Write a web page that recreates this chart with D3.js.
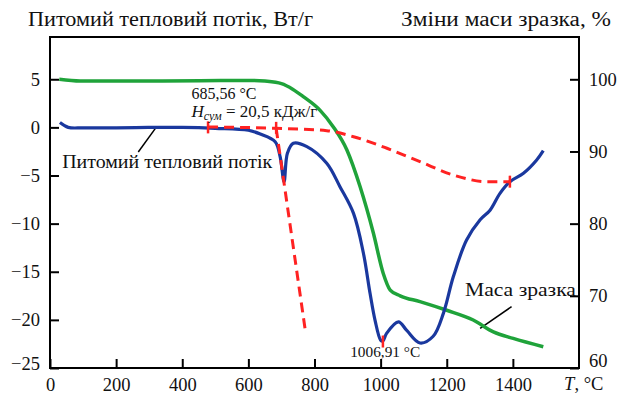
<!DOCTYPE html>
<html>
<head>
<meta charset="utf-8">
<script src="https://cdn.jsdelivr.net/npm/d3@7"></script>
<style>
  body { margin: 0; background: #fff; }
  .axis path { display: none; }
  .axis line { stroke: #000; stroke-width: 2; }
</style>
</head>
<body>
<svg id="chart" width="623" height="402"></svg>
<script>
"use strict";

var FONT = "'Liberation Serif', Tinos, 'Times New Roman', 'DejaVu Serif', serif";

// heat flow curve, W/g
var flow_t = [30, 55, 100, 200, 300, 400, 500, 600, 636, 681, 696, 708, 718, 736, 777, 837, 877, 918, 948, 968, 983, 1000, 1007, 1018, 1054, 1079, 1119, 1159, 1190, 1220, 1260, 1301, 1331, 1361, 1391, 1432, 1472, 1492];
var flow_v = [0.5, 0.0, -0.05, -0.05, 0.0, 0.0, -0.1, -0.3, -0.69, -1.49, -3.05, -5.64, -2.69, -1.65, -2.0, -3.73, -6.16, -8.93, -13.08, -17.24, -20.02, -22.1, -22.2, -21.4, -20.2, -21.1, -22.4, -21.7, -19.3, -15.5, -11.7, -9.6, -8.6, -6.85, -5.64, -4.77, -3.39, -2.42];

// sample mass, %
var mass_t = [28, 91, 303, 454, 605, 650, 700, 735, 766, 817, 857, 898, 938, 978, 1008, 1029, 1059, 1119, 1200, 1280, 1341, 1401, 1492];
var mass_v = [100, 99.76, 99.76, 99.8, 99.85, 99.75, 99.4, 98.6, 97.6, 95.7, 93.4, 90.2, 85.1, 78.7, 73.1, 70.8, 70.0, 69.2, 68.0, 66.65, 65.0, 64.1, 62.95];

// red dashed baseline and tangent
var base_t = [478, 681, 837, 918, 1019, 1119, 1220, 1321, 1391];
var base_v = [0.04, -0.09, -0.34, -0.97, -2.17, -3.56, -4.95, -5.64, -5.64];
var tangent_t = [684, 772];
var tangent_v = [-0.09, -21.05];

// red markers
var marker_t = [478, 684, 1391, 1006.91];
var marker_v = [0.0, -0.05, -5.64, -22.25];

var x_ticks = [0, 200, 400, 600, 800, 1000, 1200, 1400];
var left_ticks = [5, 0, -5, -10, -15, -20, -25];
var right_ticks = [60, 70, 80, 90, 100];

function _make_line(X, Y, ts, vs, curve) {
  const pts = ts.map(function (t, i) { return [t, vs[i]]; });
  return d3.line()
    .x(function (d) { return X(d[0]); })
    .y(function (d) { return Y(d[1]); })
    .curve(curve)(pts);
}

function _label(sel, x, y, size, txt, len) {
  const t = sel.append('text')
    .attr('x', x).attr('y', y)
    .attr('font-family', FONT)
    .attr('font-size', size)
    .attr('fill', '#111')
    .text(txt);
  if (len) {
    t.attr('textLength', len).attr('lengthAdjust', 'spacingAndGlyphs');
  }
  return t;
}

function _draw_plot(svg) {
  var margin = { top: 37, right: 44, bottom: 34, left: 50 };
  var width = 623 - margin.left - margin.right;
  var height = 402 - margin.top - margin.bottom;

  var plot = svg.append('g')
    .attr('transform', 'translate(' + margin.left + ',' + margin.top + ')');

  var xscale = d3.scaleLinear().domain([0, 1600]).range([0, width]);
  var yleft = d3.scaleLinear().domain([-25, 9.39]).range([height, 0]);
  var yright = d3.scaleLinear().domain([60, 105.86]).range([height, 0]);

  plot.append('g')
    .attr('class', 'axis x')
    .attr('transform', 'translate(0,' + height + ')')
    .call(d3.axisBottom(xscale).tickValues(x_ticks).tickFormat(d3.format('d'))
      .tickSize(-9).tickSizeOuter(0).tickPadding(10));
  plot.append('g')
    .attr('class', 'axis y')
    .call(d3.axisLeft(yleft).tickValues(left_ticks).tickSize(-9).tickSizeOuter(0).tickPadding(10));
  plot.append('g')
    .attr('class', 'axis y2')
    .attr('transform', 'translate(' + width + ',0)')
    .call(d3.axisRight(yright).tickValues(right_ticks).tickSize(-9).tickSizeOuter(0).tickPadding(10));

  svg.selectAll('.axis')
    .attr('font-family', FONT)
    .attr('font-size', 18.5)
    .selectAll('text').attr('fill', '#111');
  // bottom labels of the two side axes sit a little higher
  plot.select('.y').selectAll('text').filter(function (d) { return d === -25; }).attr('dy', '0.1em');
  plot.select('.y2').selectAll('text').filter(function (d) { return d === 60; }).attr('dy', '-0.1em');

  plot.append('rect')
    .attr('width', width)
    .attr('height', height)
    .attr('fill', 'none')
    .attr('stroke', '#000')
    .attr('stroke-width', 2);

  // leader lines
  plot.append('line')
    .attr('x1', xscale(267)).attr('y1', yleft(-2.56))
    .attr('x2', xscale(321)).attr('y2', yleft(0))
    .attr('stroke', '#000').attr('stroke-width', 1.5);
  plot.append('line')
    .attr('x1', xscale(1301)).attr('y1', yright(65.5))
    .attr('x2', xscale(1396)).attr('y2', yright(68.5))
    .attr('stroke', '#000').attr('stroke-width', 1.5);

  plot.append('path')
    .attr('d', _make_line(xscale, yright, mass_t, mass_v, d3.curveMonotoneX))
    .attr('fill', 'none').attr('stroke', '#1fa33a').attr('stroke-width', 3.5);

  plot.append('path')
    .attr('d', _make_line(xscale, yleft, flow_t, flow_v, d3.curveCatmullRom))
    .attr('fill', 'none').attr('stroke', '#1a389e').attr('stroke-width', 3.2);

  plot.append('path')
    .attr('d', _make_line(xscale, yleft, base_t, base_v, d3.curveMonotoneX))
    .attr('fill', 'none').attr('stroke', '#ff2222').attr('stroke-width', 3)
    .attr('stroke-dasharray', '10,6');
  plot.append('path')
    .attr('d', _make_line(xscale, yleft, tangent_t, tangent_v, d3.curveLinear))
    .attr('fill', 'none').attr('stroke', '#ff2222').attr('stroke-width', 3)
    .attr('stroke-dasharray', '10,6');

  plot.selectAll('.marker')
    .data(marker_t)
    .enter().append('line')
    .attr('class', 'marker')
    .attr('x1', function (d) { return xscale(d); })
    .attr('x2', function (d) { return xscale(d); })
    .attr('y1', function (d, i) { return yleft(marker_v[i]) - 6; })
    .attr('y2', function (d, i) { return yleft(marker_v[i]) + 6; })
    .attr('stroke', '#ff2222').attr('stroke-width', 2.5);

  _annotate_plot(svg, plot, xscale, yleft, yright, height);
}

function _annotate_plot(svg, plot, X, Y, Y2, height) {
  _label(svg, 28, 26, 20, 'Питомий тепловий потік, Вт/г', 285);
  _label(svg, 401, 26, 20, 'Зміни маси зразка, %', 210);

  _label(plot, X(428), Y(2.95), 16, '685,56 °C', 65);
  const h = _label(plot, X(428), Y(1.05), 17, '');
  h.append('tspan').attr('font-style', 'italic').text('H');
  h.append('tspan').attr('font-size', 12).attr('font-style', 'italic').attr('dy', 3).text('сум');
  h.append('tspan').attr('dy', -3).text(' = 20,5 кДж/г');

  _label(plot, X(37), Y(-4.2), 18, 'Питомий тепловий потік', 210);
  _label(plot, X(1255), Y2(70.0), 18.5, 'Маса зразка', 111);
  _label(plot, X(908), Y(-23.85), 15.5, '1006,91 °C', 70);

  const t = _label(plot, X(1555), height + 22, 18.5, '');
  t.append('tspan').attr('font-style', 'italic').text('T');
  t.append('tspan').text(', °C');
}

function init_plot() {
  var svg = d3.select('#chart');
  _draw_plot(svg);
}

init_plot();
</script>
</body>
</html>
